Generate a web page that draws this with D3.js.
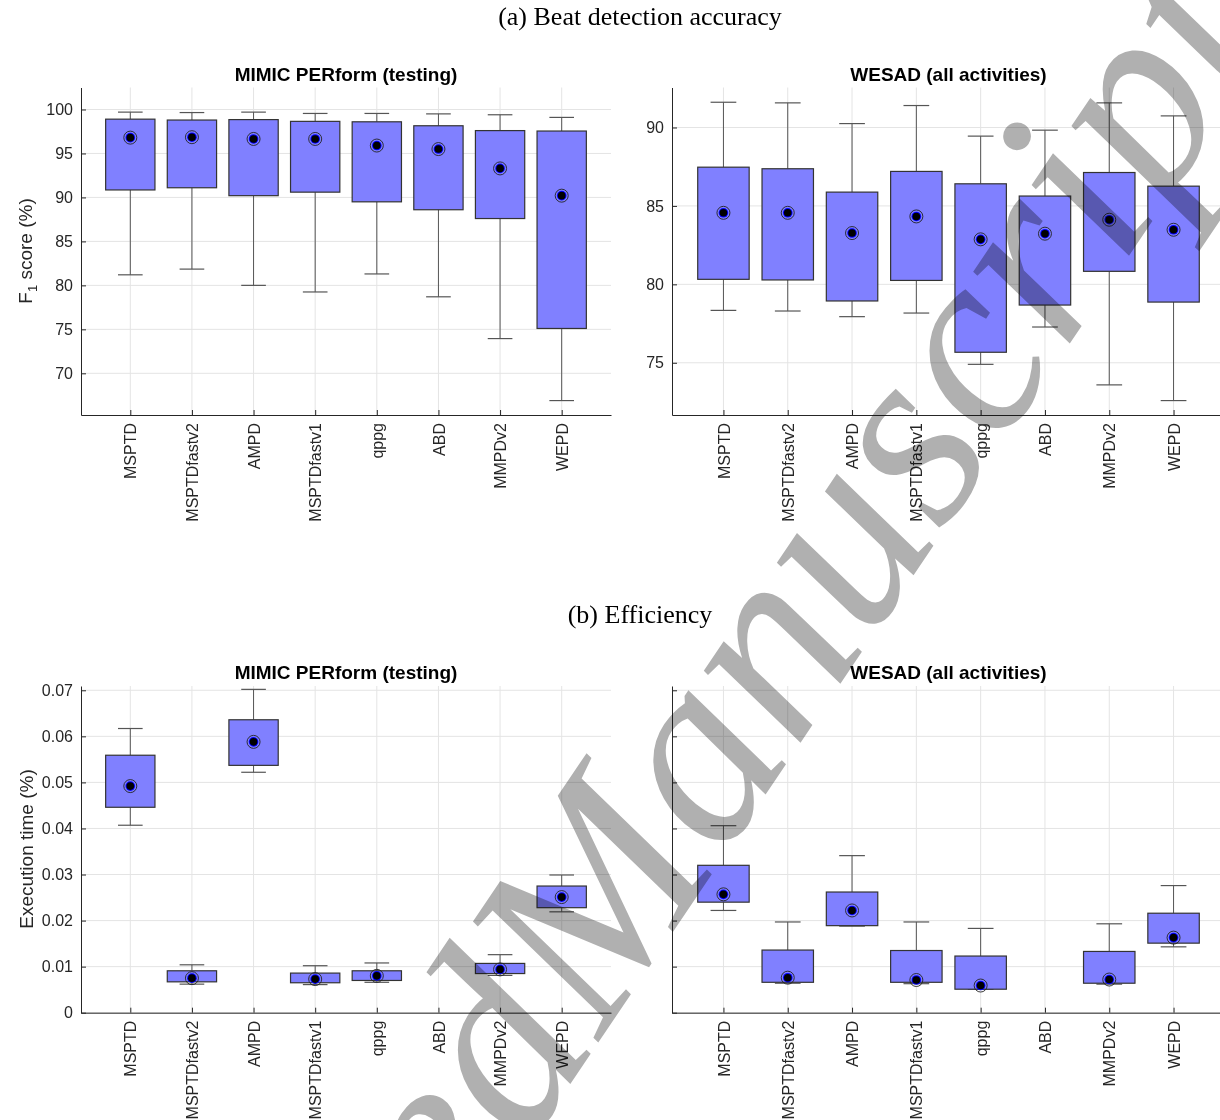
<!DOCTYPE html>
<html>
<head>
<meta charset="utf-8">
<script src="https://cdn.jsdelivr.net/npm/d3@7/dist/d3.min.js"></script>
<style>
  body { margin: 0; background: #fff; }
  svg { display: block; }
  .tick text { font-family: "Liberation Sans", Arial, sans-serif; font-size: 16px; fill: #262626; }
</style>
</head>
<body>
<svg id="fig" width="1220" height="1120"></svg>
<script>
// categories (methods)
var methods = ['MSPTD', 'MSPTDfastv2', 'AMPD', 'MSPTDfastv1', 'qppg', 'ABD', 'MMPDv2', 'WEPD'];

// (a) F1 score, MIMIC PERform (testing)
var f1MimicLo  = [81.2, 81.85, 80.0, 79.25, 81.3, 78.7, 73.95, 66.9];
var f1MimicQ1  = [90.85, 91.1, 90.2, 90.6, 89.5, 88.6, 87.6, 75.1];
var f1MimicMid = [96.8, 96.85, 96.65, 96.65, 95.9, 95.5, 93.3, 90.2];
var f1MimicQ3  = [98.9, 98.8, 98.85, 98.65, 98.6, 98.15, 97.6, 97.55];
var f1MimicHi  = [99.7, 99.65, 99.7, 99.55, 99.55, 99.5, 99.4, 99.1];

// (a) F1 score, WESAD (all activities)
var f1WesadLo  = [78.34, 78.3, 77.94, 78.17, 74.9, 77.28, 73.59, 72.59];
var f1WesadQ1  = [80.32, 80.28, 78.94, 80.25, 75.67, 78.68, 80.83, 78.87];
var f1WesadMid = [84.56, 84.56, 83.27, 84.33, 82.87, 83.23, 84.12, 83.48];
var f1WesadQ3  = [87.47, 87.37, 85.88, 87.2, 86.41, 85.63, 87.13, 86.26];
var f1WesadHi  = [91.61, 91.57, 90.25, 91.4, 89.45, 89.83, 91.57, 90.74];

// (b) execution time, MIMIC PERform (testing)  (ABD has no data)
var timeMimicLo  = [0.0407, 0.0062, 0.0522, 0.0061, 0.0066, null, 0.0081, 0.0219];
var timeMimicQ1  = [0.0446, 0.0067, 0.0537, 0.0065, 0.0070, null, 0.0085, 0.0228];
var timeMimicMid = [0.0492, 0.0075, 0.0588, 0.0073, 0.0080, null, 0.0094, 0.0251];
var timeMimicQ3  = [0.0559, 0.0091, 0.0636, 0.0086, 0.0091, null, 0.0107, 0.0275];
var timeMimicHi  = [0.0617, 0.0104, 0.0702, 0.0102, 0.0108, null, 0.0126, 0.0299];

// (b) execution time, WESAD (all activities)
var timeWesadLo  = [0.0222, 0.0064, 0.0188, 0.0063, 0.0051, null, 0.0062, 0.0143];
var timeWesadQ1  = [0.0240, 0.0066, 0.0189, 0.0066, 0.0051, null, 0.0064, 0.0151];
var timeWesadMid = [0.0257, 0.0076, 0.0222, 0.0071, 0.0059, null, 0.0072, 0.0163];
var timeWesadQ3  = [0.0320, 0.0136, 0.0262, 0.0135, 0.0123, null, 0.0133, 0.0216];
var timeWesadHi  = [0.0406, 0.0197, 0.0341, 0.0197, 0.0183, null, 0.0193, 0.0276];

// tick values
var f1MimicTicks = [70, 75, 80, 85, 90, 95, 100];
var f1WesadTicks = [75, 80, 85, 90];
var timeTicks    = [0, 0.01, 0.02, 0.03, 0.04, 0.05, 0.06, 0.07];

var svg = d3.select('#fig');
var sans = '"Liberation Sans", Arial, sans-serif';

function panel(opt)
{
	var x = d3.scaleLinear().domain([0.2, 8.8]).range([opt.left, opt.right]);
	var y = d3.scaleLinear().domain(opt.yDomain).range([opt.bottom, opt.top]);
	var g = svg.append('g');

	// grid
	g.append('g').selectAll('line').data(opt.ticks).enter().append('line')
		.attr('x1', opt.left).attr('x2', opt.right)
		.attr('y1', function (d) { return y(d); }).attr('y2', function (d) { return y(d); })
		.attr('stroke', '#e4e4e4').attr('stroke-width', 1);
	g.append('g').selectAll('line').data(methods).enter().append('line')
		.attr('x1', function (d, i) { return x(i + 1); }).attr('x2', function (d, i) { return x(i + 1); })
		.attr('y1', opt.top).attr('y2', opt.bottom)
		.attr('stroke', '#e4e4e4').attr('stroke-width', 1);

	// axes (ticks pointing inward like matlab)
	var yAxis = d3.axisLeft(y).tickValues(opt.ticks).tickSizeInner(-5).tickSizeOuter(0).tickPadding(8)
		.tickFormat(opt.showY ? function (d) { return String(d); } : function () { return ''; });
	var ya = g.append('g').attr('transform', 'translate(' + opt.left + ',0)').call(yAxis);
	var xAxis = d3.axisBottom(x).tickValues(d3.range(1, 9)).tickSizeInner(-5).tickSizeOuter(0)
		.tickFormat(function (d) { return methods[d - 1]; });
	var xa = g.append('g').attr('transform', 'translate(0,' + opt.bottom + ')').call(xAxis);
	xa.selectAll('text')
		.attr('transform', 'rotate(-90)')
		.attr('text-anchor', 'end')
		.attr('x', -8).attr('y', 0).attr('dy', '0.35em');
	[ya, xa].forEach(function (a)
	{
		a.select('.domain').attr('stroke', '#262626').attr('stroke-width', 1);
		a.selectAll('.tick line').attr('stroke', '#262626');
	});

	var cap = 0.2, half = 0.4;
	var boxes = g.append('g').selectAll('g').data(methods).enter().append('g')
		.filter(function (d, i) { return opt.mid[i] != null; });

	boxes.each(function (d)
	{
		var i = methods.indexOf(d), c = i + 1;
		var b = d3.select(this);
		// whiskers
		b.append('line').attr('x1', x(c)).attr('x2', x(c)).attr('y1', y(opt.q3[i])).attr('y2', y(opt.hi[i]))
			.attr('stroke', '#555').attr('stroke-width', 1);
		b.append('line').attr('x1', x(c)).attr('x2', x(c)).attr('y1', y(opt.q1[i])).attr('y2', y(opt.lo[i]))
			.attr('stroke', '#555').attr('stroke-width', 1);
		b.append('line').attr('x1', x(c - cap)).attr('x2', x(c + cap)).attr('y1', y(opt.hi[i])).attr('y2', y(opt.hi[i]))
			.attr('stroke', '#555').attr('stroke-width', 1.2);
		b.append('line').attr('x1', x(c - cap)).attr('x2', x(c + cap)).attr('y1', y(opt.lo[i])).attr('y2', y(opt.lo[i]))
			.attr('stroke', '#555').attr('stroke-width', 1.2);
		// box
		b.append('rect')
			.attr('x', x(c - half)).attr('width', x(c + half) - x(c - half))
			.attr('y', y(opt.q3[i])).attr('height', y(opt.q1[i]) - y(opt.q3[i]))
			.attr('fill', '#8080ff').attr('stroke', '#333').attr('stroke-width', 1.2);
		// centre marker
		b.append('circle').attr('cx', x(c)).attr('cy', y(opt.mid[i])).attr('r', 6.5)
			.attr('fill', 'none').attr('stroke', '#222').attr('stroke-width', 0.9);
		b.append('circle').attr('cx', x(c)).attr('cy', y(opt.mid[i])).attr('r', 4.8).attr('fill', '#0000ff');
		b.append('circle').attr('cx', x(c)).attr('cy', y(opt.mid[i])).attr('r', 3.8).attr('fill', '#000');
	});

	g.append('text')
		.attr('x', (opt.left + x(8.8)) / 2).attr('y', opt.top - 7)
		.attr('text-anchor', 'middle')
		.style('font-family', sans).style('font-size', '19px').style('font-weight', 'bold')
		.text(opt.title);
	return g;
}

panel({ left: 81, right: 611, top: 87.5, bottom: 415, yDomain: [65.26, 102.5], ticks: f1MimicTicks, showY: true,
	lo: f1MimicLo, q1: f1MimicQ1, mid: f1MimicMid, q3: f1MimicQ3, hi: f1MimicHi, title: 'MIMIC PERform (testing)' });
panel({ left: 672, right: 1225, top: 87.5, bottom: 415, yDomain: [71.67, 92.55], ticks: f1WesadTicks, showY: true,
	lo: f1WesadLo, q1: f1WesadQ1, mid: f1WesadMid, q3: f1WesadQ3, hi: f1WesadHi, title: 'WESAD (all activities)' });
panel({ left: 81, right: 611, top: 686, bottom: 1012.7, yDomain: [0, 0.07093], ticks: timeTicks, showY: true,
	lo: timeMimicLo, q1: timeMimicQ1, mid: timeMimicMid, q3: timeMimicQ3, hi: timeMimicHi, title: 'MIMIC PERform (testing)' });
panel({ left: 672, right: 1225, top: 686, bottom: 1012.7, yDomain: [0, 0.07093], ticks: timeTicks, showY: false,
	lo: timeWesadLo, q1: timeWesadQ1, mid: timeWesadMid, q3: timeWesadQ3, hi: timeWesadHi, title: 'WESAD (all activities)' });

// y labels
var yl1 = svg.append('text').attr('transform', 'translate(32,251) rotate(-90)').attr('text-anchor', 'middle')
	.style('font-family', sans).style('font-size', '19px').style('fill', '#262626');
yl1.append('tspan').text('F');
yl1.append('tspan').attr('dy', 5).style('font-size', '13px').text('1');
yl1.append('tspan').attr('dy', -5).text(' score (%)');
svg.append('text').attr('transform', 'translate(33,849) rotate(-90)').attr('text-anchor', 'middle')
	.style('font-family', sans).style('font-size', '19px').style('fill', '#262626')
	.text('Execution time (%)');

// section headings
svg.append('text').attr('x', 640).attr('y', 25).attr('text-anchor', 'middle')
	.style('font-family', '"Liberation Serif", "Times New Roman", serif').style('font-size', '26px')
	.text('(a) Beat detection accuracy');
svg.append('text').attr('x', 640).attr('y', 623).attr('text-anchor', 'middle')
	.style('font-family', '"Liberation Serif", "Times New Roman", serif').style('font-size', '26px')
	.text('(b) Efficiency');

// watermark
var wm = svg.append('text')
	.attr('transform', 'translate(600,1040) rotate(-56)')
	.style('font-family', '"Liberation Serif", "Times New Roman", serif')
	.style('font-style', 'italic').style('font-size', '262px')
	.style('fill', '#b0b0b0').style('mix-blend-mode', 'multiply');
wm.append('tspan').attr('text-anchor', 'end').text('Accepted ');
svg.append('text')
	.attr('transform', 'translate(600,1040) rotate(-56)')
	.style('font-family', '"Liberation Serif", "Times New Roman", serif')
	.style('font-style', 'italic').style('font-size', '262px')
	.style('fill', '#b0b0b0').style('mix-blend-mode', 'multiply')
	.text('Manuscript');
</script>
</body>
</html>
